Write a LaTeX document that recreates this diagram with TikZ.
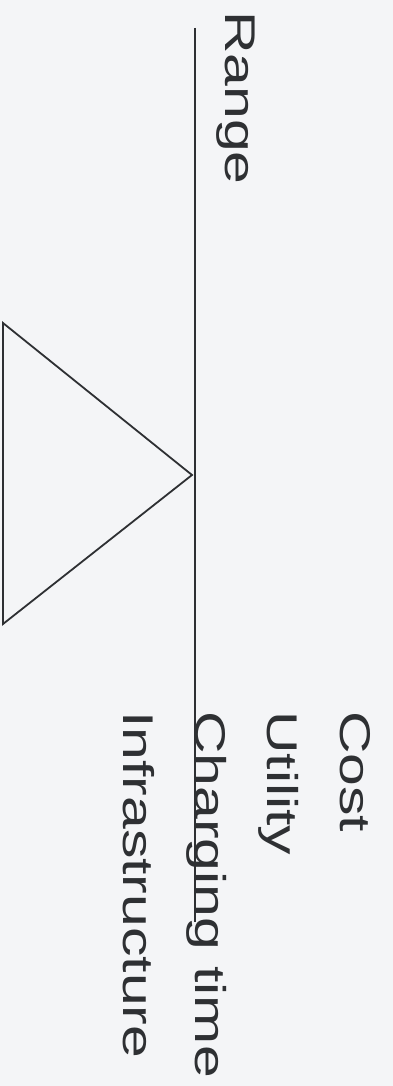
\documentclass[tikz,border=0pt]{standalone}
\usepackage{fontspec}
\setmainfont{Liberation Sans}
\newfontfamily\widesans[FakeStretch=1.37]{Liberation Sans}
\usetikzlibrary{positioning}
\definecolor{ink}{HTML}{2E3033}
\definecolor{paper}{HTML}{F4F5F7}

\begin{document}
\begin{tikzpicture}[
  x=1pt, y=-1pt,
  word/.style={text=ink, inner sep=0pt, rotate=-90, anchor=base west,
    font=\widesans\fontsize{43}{50}\selectfont},
  bar/.style={draw=ink, line width=2pt},
  fulcrum/.style={draw=ink, line width=1.8pt, line join=miter}
]
  \fill[paper] (0,0) rectangle (393,1086);
  \useasboundingbox (0,0) rectangle (393,1086);

  % the lever and its pivot
  \coordinate (beamtop) at (195,28);
  \coordinate (beambottom) at (195,922);
  \coordinate (apex) at (192,475);
  \coordinate (basetop) at (3,323);
  \coordinate (basebottom) at (3,624);
  \draw[bar] (beamtop) -- (beambottom);
  \draw[fulcrum] (apex) -- (basetop) -- (basebottom) -- cycle;

  % the two sides of the balance
  \node[word] (range) at (225,11) {Range};
  \foreach \t [count=\i] in {Cost, Utility, Charging time, Infrastructure}
    \node[word, name=side\i] at ({340-72.3*(\i-1)},711) {\t};
\end{tikzpicture}
\end{document}
